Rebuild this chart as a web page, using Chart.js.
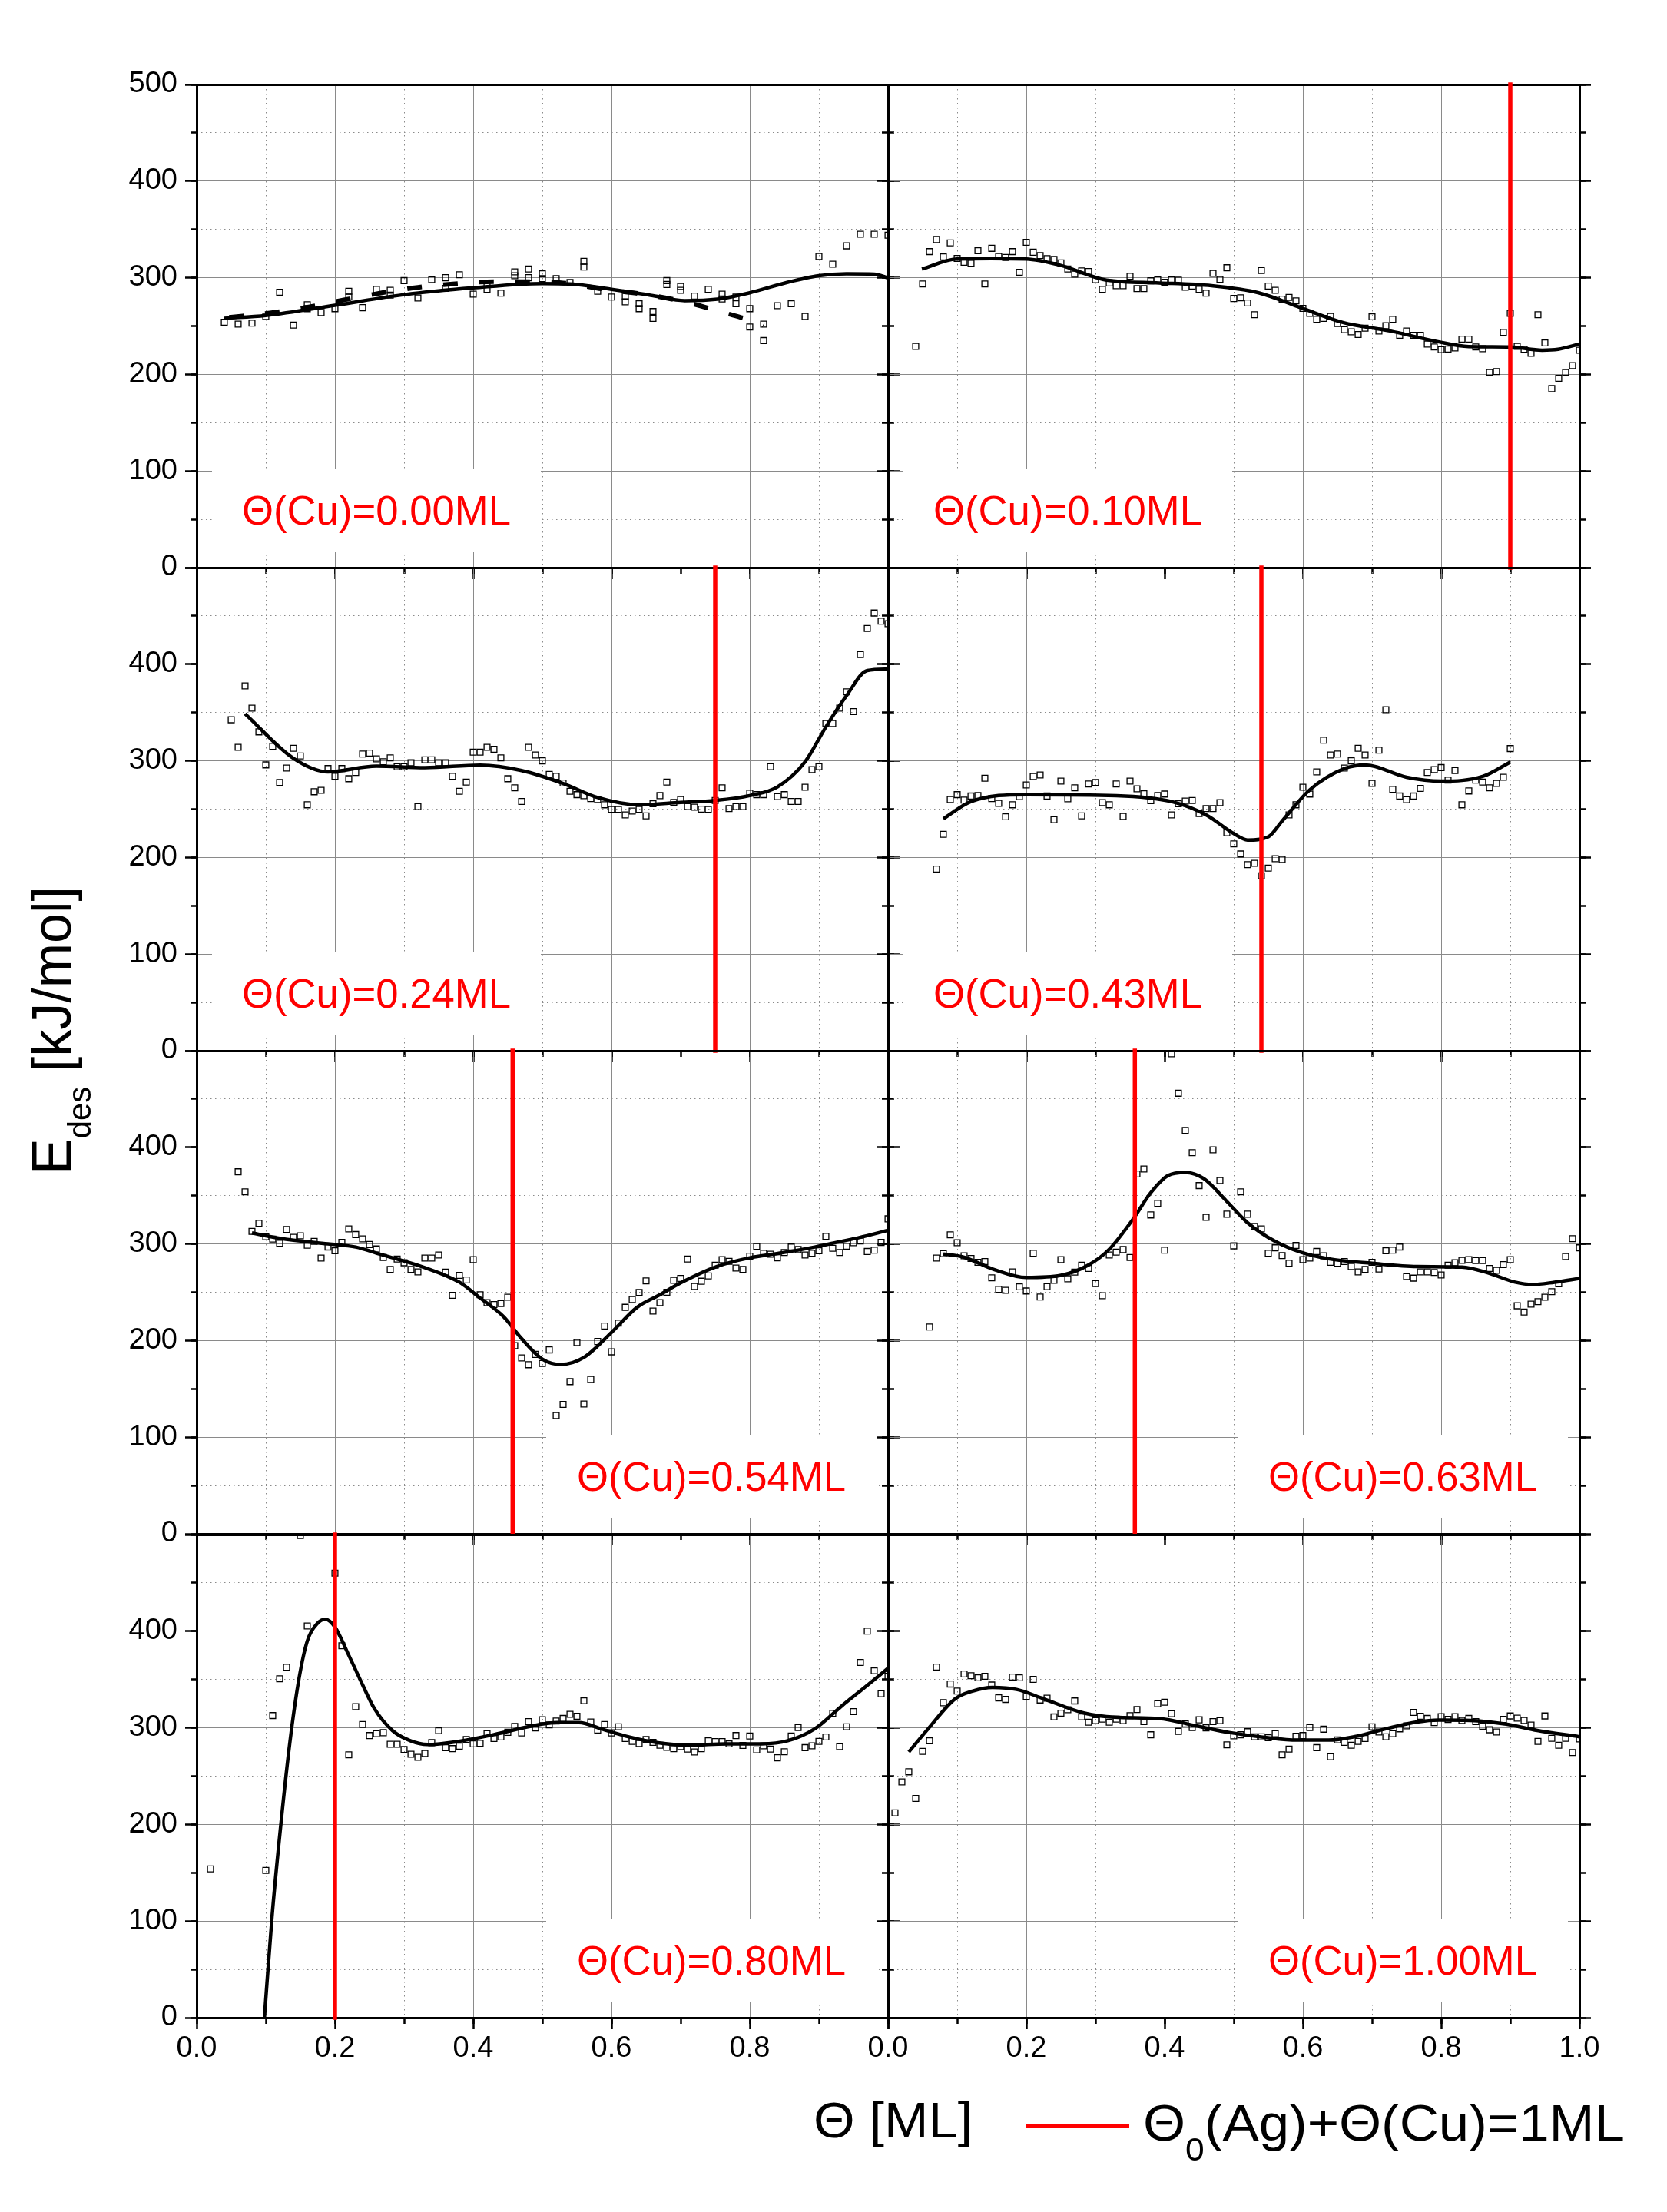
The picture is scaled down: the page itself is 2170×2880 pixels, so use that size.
<!DOCTYPE html>
<html><head><meta charset="utf-8">
<script src="https://cdn.jsdelivr.net/npm/chart.js@4.4.1/dist/chart.umd.min.js"></script>
<style>
html,body{margin:0;padding:0;background:#fff;}
body{width:2170px;height:2880px;position:relative;overflow:hidden;font-family:'Liberation Sans',Arial,sans-serif;}
canvas{position:absolute;}
.box{position:absolute;background:#fff;}
.box span{position:absolute;white-space:nowrap;color:#ff0000;font-size:54px;line-height:54px;transform-origin:0 0;}
.txt{position:absolute;white-space:nowrap;color:#000;transform-origin:0 0;}
</style></head><body>
<div id="root"></div>
<script>
// ---------------- DATA (x in units of 0.01 ML, y = E_des in kJ/mol) ----------------
const cuLabels = ['Θ(Cu)=0.00ML','Θ(Cu)=0.10ML','Θ(Cu)=0.24ML','Θ(Cu)=0.43ML','Θ(Cu)=0.54ML','Θ(Cu)=0.63ML','Θ(Cu)=0.80ML','Θ(Cu)=1.00ML'];
// red line: Θ0(Ag)+Θ(Cu)=1ML position (ML)
const redX = [null, 0.90, 0.75, 0.54, 0.457, 0.357, 0.20, null];
const xTickLabels = ['0.0','0.2','0.4','0.6','0.8','1.0'];
const yTickLabels = ['0','100','200','300','400','500'];

const pts000 = [[4,254],[6,252],[8,253],[10,260],[12,285],[14,251],[16,272],[18,264],[20,268],[22,286],[24,269],[26,288],[28,287],[30,297],[32,279],[34,298],[36,300],[38,303],[40,283],[42,288],[44,284],[46,306],[48,309],[50,304],[52,299],[54,295],[56,317],[58,286],[60,280],[62,275],[64,268],[66,258],[68,297],[70,291],[72,281],[74,288],[76,283],[78,273],[80,249],[82,235],[84,271],[86,273],[88,260],[90,322],[92,314],[94,333],[96,345],[98,345],[100,344]];
const pts000b = [[16,268],[22,280],[28,282],[36,289],[42,293],[46,302],[48,300],[50,299],[56,311],[62,281],[64,273],[66,265],[68,293],[70,287],[76,278],[78,280],[80,268],[82,252]];
const fit000 = [[4,258],[10,261],[20,271.5],[30,282.5],[40,289.5],[50,294],[54,293.5],[60,288],[66,281.4],[70.6,276.3],[75.3,277.8],[80,284.4],[85.5,295.3],[90,302],[94,304],[98,303.7],[100,299.7]];
const fit000b = [[4.7,259],[10.6,263.5],[16.2,269.7],[21.3,277],[26.8,284.4],[32,290],[37.9,294],[43,296],[48,296],[53,294.6],[59,288],[65,282.5],[70.6,275],[76.2,264],[81.3,253],[82,250.7]];

const pts010 = [[4,229],[5,293.5],[6,327],[7,339.5],[8,321.6],[9,336],[10,320],[11,316],[12,315],[13,328],[14,293.5],[15,330.4],[16,322],[17,321],[18,327],[19,305.6],[20,336.6],[21,326.4],[22,323],[23,319.8],[24,319],[25,315.4],[26,309],[27,303.7],[28,307],[29,306.4],[30,297.9],[31,288],[32,294.6],[33,291.7],[34,291.7],[35,301.5],[36,288.7],[37,288.7],[38,296.8],[39,297.9],[40,295.3],[41,297.9],[42,297.5],[43,290.2],[44,291.3],[45,288],[46,284],[47,304.5],[48,298.2],[49,310.3],[50,278.5],[51,279.2],[52,273.8],[53,261.7],[54,307.4],[55,291.3],[56,287],[57,277.8],[58,279.6],[59,276],[60,268.3],[61,263.2],[62,257],[63,258],[64,260],[65,252.6],[66,246.3],[67,244],[68,241.2],[69,247.8],[70,259.5],[71,244.9],[72,250.4],[73,257],[74,240.5],[75,244.9],[76,240.5],[77,240.5],[78,231.4],[79,228.4],[80,225.5],[81,226.2],[82,227.3],[83,236.5],[84,236.5],[85,228.4],[86,226.6],[87,202],[88,202.9],[89,243.4],[90,263.2],[91,229],[92,225.9],[93,221.9],[94,261.7],[95,232.5],[96,185.3],[97,196],[98,202],[99,209],[100,225]];
const fit010 = [[4.9,309],[9.9,319.4],[14.9,319.8],[20,319.4],[24.9,312.9],[31.6,297.5],[39.2,294.6],[46.8,291.7],[53.6,284.4],[59.7,269],[65.8,253.7],[72.6,244.9],[79.4,234],[84,228.8],[90,228.4],[94.6,225],[96.9,225.9],[100,231.4]];

const pts024 = [[5,342.5],[6,314],[7,377.6],[8,354.5],[9,330],[10,295.8],[11,315],[12,277.6],[13,292.5],[14,313],[15,305],[16,254.5],[17,268],[18,269.5],[19,292],[20,284],[21,292],[22,281.5],[23,288],[24,307],[25,308],[26,302],[27,299],[28,303],[29,294],[30,294],[31,298],[32,252.6],[33,301],[34,301],[35,298],[36,298],[37,284],[38,268.5],[39,278],[40,309],[41,309],[42,314],[43,312],[44,303],[45,281.5],[46,272],[47,258],[48,314],[49,306],[50,300],[51,286],[52,284],[53,277],[54,268.5],[55,265],[56,264],[57,261],[58,260],[59,254.5],[60,249.7],[61,249.7],[62,244],[63,248],[64,249.7],[65,243],[66,255.5],[67,264],[68,278],[69,257],[70,260],[71,252.6],[72,252],[73,250],[74,249.7],[75,259],[76,272],[77,250.6],[78,252.6],[79,252.6],[80,266.5],[81,265],[82,265],[83,294],[84,263],[85,265],[86,258],[87,258],[88,272.7],[89,291],[90,294],[91,338.6],[92,338.6],[93,354.5],[94,371.4],[95,351],[96,410],[97,437],[98,453],[99,444.5],[100,442]];
const fit024 = [[7,348.7],[14,302.6],[19,288.6],[26,294.5],[33,293],[41,295.5],[47,290],[53,276.6],[58,262],[64,254.5],[70,257],[75,259],[80,264],[84,273],[88,299],[91,335],[94,367.5],[97,393.5],[100,395]];

const pts043 = [[7,188],[8,224],[9,260],[10,265],[11,259.4],[12,263.6],[13,264],[14,282],[15,261],[16,256],[17,242],[18,254.5],[19,263],[20,275],[21,283.8],[22,285.4],[23,263.6],[24,239],[25,279],[26,260.7],[27,272],[28,243],[29,276],[30,277.6],[31,256.8],[32,254.5],[33,276],[34,242.5],[35,279],[36,271],[37,266],[38,258.8],[39,264],[40,265.6],[41,244],[42,255.5],[43,258.4],[44,259],[45,245.5],[46,250.6],[47,250.6],[48,256.8],[49,225.6],[50,214],[51,203.6],[52,192.5],[53,194],[54,181],[55,189],[56,198.7],[57,198],[58,244],[59,254.5],[60,272.7],[61,265.6],[62,288.6],[63,321.4],[64,306],[65,307],[66,292.5],[67,300],[68,313],[69,306],[70,276.6],[71,311],[72,353],[73,270.5],[74,263.6],[75,259.7],[76,263.6],[77,271.4],[78,288],[79,291],[80,293],[81,280],[82,290],[83,254.5],[84,268.8],[85,280],[86,278],[87,272],[88,276.6],[89,283],[90,312.7]];
const fit043 = [[8,240],[12,257.8],[20,265],[33,264],[41,257.8],[46,244],[50,224.7],[52,218],[55,221.4],[57,237.7],[61,270],[66,292],[69,295.8],[75,283],[80,279],[86,283.8],[90,298.7]];

const pts054 = [[6,374.7],[7,354],[8,313],[9,321.4],[10,307.5],[11,305],[12,300.6],[13,315],[14,306.8],[15,308.4],[16,298.7],[17,302.6],[18,285.4],[19,296.8],[20,292.9],[21,301.6],[22,315.6],[23,309.7],[24,305.2],[25,299.4],[26,294.8],[27,286],[28,273.7],[29,284.4],[30,280.5],[31,273.7],[32,271],[33,285.4],[34,285.4],[35,288.6],[36,270.8],[37,246.8],[38,267.5],[39,262.7],[40,283.8],[41,247.4],[42,239.3],[43,237.3],[44,238.3],[45,244.8],[46,194.8],[47,182],[48,175],[49,185.7],[50,176.3],[51,190.3],[52,122.4],[53,134],[54,157.5],[55,198],[56,134.4],[57,159.7],[58,199],[59,215],[60,188.3],[61,218],[62,234.4],[63,242.5],[64,249.7],[65,261.7],[66,230.5],[67,239.3],[68,250],[69,262.3],[70,264.3],[71,284.4],[72,256],[73,261.4],[74,266.9],[75,278],[76,283.8],[77,282],[78,275],[79,273.7],[80,287.3],[81,297.4],[82,290.3],[83,289.3],[84,285.7],[85,291.2],[86,296.8],[87,294.2],[88,288.6],[89,290.3],[90,292.9],[91,307.8],[92,295.5],[93,291.2],[94,297.7],[95,301.3],[96,303],[97,292.2],[98,293.5],[99,301.6],[100,326]];
const fit054 = [[8,311.4],[12,305.8],[19,300],[23,296.8],[26.4,289.6],[32.8,276],[38,260.4],[41,244],[44.4,224.7],[47,202],[50,180.8],[52.7,175.3],[56,182.5],[60,208.4],[63.7,234.4],[67,247.4],[70,259.7],[75.2,276.6],[80,285.7],[84.2,290.3],[89.4,296.8],[93.2,302.6],[95.8,306.5],[100,314]];

const pts063 = [[6,214],[7,285.4],[8,290],[9,309.4],[10,301.3],[11,287.7],[12,285],[13,281],[14,281.8],[15,264.9],[16,253],[17,252],[18,271],[19,255.5],[20,251.3],[21,290.3],[22,245],[23,255.8],[24,262.3],[25,283.8],[26,264],[27,270.8],[28,278],[29,274.7],[30,259],[31,246.4],[32,288.6],[33,291.6],[34,294.2],[35,286],[36,372.4],[37,377.6],[38,330],[39,342],[40,293.5],[41,496.8],[42,456],[43,417.5],[44,394.5],[45,360.4],[46,327.6],[47,397.4],[48,365.6],[49,330.8],[50,298],[51,354],[52,330.8],[53,318.2],[54,315.6],[55,290.3],[56,296],[57,288],[58,280],[59,298.4],[60,283.8],[61,285.4],[62,292.2],[63,287.7],[64,281],[65,280],[66,281.8],[67,276.6],[68,271],[69,273.7],[70,281],[71,274],[72,292.9],[73,293.5],[74,296.8],[75,266.2],[76,264.6],[77,271],[78,271],[79,270.5],[80,267.9],[81,278],[82,280.5],[83,283],[84,283.8],[85,282.8],[86,282.8],[87,274.7],[88,272.7],[89,278.6],[90,283.8],[91,236],[92,229.5],[93,237.7],[94,240.3],[95,244.8],[96,250.6],[97,258.8],[98,287],[99,305.5],[100,296]];
const fit063 = [[8,289.6],[10.9,286.4],[15.4,273.4],[20,265.3],[25,267.5],[29,278.2],[32,294.5],[35.4,325.3],[38,353],[40.5,370.8],[43,374],[45.7,367.5],[48.9,344.8],[52,322],[56,302.6],[59.8,291.2],[63.7,284.7],[70,280],[76.5,276.6],[83,276],[86.8,270],[90.7,260.4],[93.2,258],[96.4,260.4],[100,264.3]];

const pts080 = [[2,154],[10,152.4],[11,312.7],[12,350.7],[13,362.7],[15,499],[16,405.4],[20,460],[21,385],[22,272],[23,322],[24,303.5],[25,292],[26,294],[27,295],[28,283],[29,283],[30,277.6],[31,272.7],[32,269.5],[33,273.4],[34,284.7],[35,297],[36,279.5],[37,278.5],[38,281],[39,288],[40,283.4],[41,284],[42,294],[43,289],[44,290.5],[45,295.4],[46,301.5],[47,294.8],[48,306.4],[49,300],[50,308.4],[51,303],[52,307],[53,309.7],[54,314],[55,312],[56,328],[57,306],[58,297.7],[59,303.5],[60,294.8],[61,301],[62,289],[63,286],[64,283.7],[65,288],[66,285],[67,282],[68,279.8],[69,278.5],[70,280.5],[71,278],[72,275],[73,278.5],[74,286.6],[75,285.7],[76,285.7],[77,283.4],[78,292],[79,281.8],[80,291.5],[81,277.2],[82,281.4],[83,278],[84,269],[85,275.3],[86,291.5],[87,300.3],[88,279.5],[89,281.4],[90,286],[91,290.5],[92,315],[93,280.5],[94,301],[95,316.8],[96,367.7],[97,400],[98,359],[99,335.3],[100,353.4]];
const fit080 = [[9.8,0],[10.9,104.4],[12.2,201.7],[13.5,286],[14.8,350.8],[16,389.8],[17.4,407.6],[18.6,412.4],[20,404.3],[21.9,376.7],[23.8,347.6],[25.7,320],[28.3,297.3],[30.9,286.6],[33.4,282.7],[37.9,286],[43,293],[48.2,301.5],[52.1,305.4],[55.3,305.4],[58.5,299],[62.4,290.8],[66.9,284.4],[71.4,282],[76.5,283.4],[81.7,283.4],[85.5,286.6],[89.4,299],[93.2,322],[97.1,344.6],[100,361.7]];

const pts100 = [[1,212],[2,244],[3,254.5],[4,227],[5,275.6],[6,286.6],[7,362.8],[8,326],[9,345.3],[10,338],[11,355.7],[12,354],[13,351.8],[14,353.4],[15,344.3],[16,331],[17,329.4],[18,352.5],[19,351.8],[20,332.4],[21,350.2],[22,328.8],[23,330.7],[24,311.3],[25,315.2],[26,318.7],[27,327.8],[28,311.3],[29,305.8],[30,307.4],[31,309],[32,305.8],[33,309],[34,307.4],[35,312.6],[36,319],[37,306.4],[38,292.8],[39,325],[40,326.5],[41,314.5],[42,296.4],[43,304],[44,300.3],[45,308.3],[46,300],[47,306.4],[48,307.4],[49,282.4],[50,291.8],[51,292.8],[52,296],[53,290.8],[54,290.8],[55,289.8],[56,294],[57,272],[58,278],[59,291.4],[60,292],[61,300.3],[62,279.5],[63,298.6],[64,270],[65,287.6],[66,285],[67,282],[68,286],[69,289],[70,301],[71,295.7],[72,290.8],[73,294],[74,299],[75,302],[76,316],[77,312],[78,309.7],[79,305.4],[80,311.6],[81,308.7],[82,311.6],[83,307.7],[84,309.7],[85,306.4],[86,301.6],[87,298],[88,295.7],[89,308.7],[90,312.3],[91,310],[92,307.7],[93,302.9],[94,286],[95,312.3],[96,289.2],[97,282],[98,289.2],[99,274.4],[100,288.6]];
const fit100 = [[3,275],[5.8,299],[9.7,330],[12.2,338],[15.1,341.9],[18.6,339.7],[22.5,330],[28.3,315.4],[32.8,311],[39.2,309.7],[44.4,302.3],[49.5,295],[54.7,289.9],[59.2,287.3],[63.7,287.3],[67.5,290.9],[72,299],[76.5,306],[79.7,308],[84.2,307.7],[89.4,303.8],[93.9,297.3],[100,290.8]];

// ---------------- LAYOUT ----------------
const ROW_TOP = [110, 739, 1368, 1998];
const COL_LEFT = [256, 1156];
const PW = 900, PH = 629;
const ML = 140, MR = 50, MT = 40, MB = 100;
const GRID = '#8a8a8a';

const panels = [
  {pts: pts000, pts2: pts000b, fit: fit000, fit2: fit000b},
  {pts: pts010, fit: fit010},
  {pts: pts024, fit: fit024},
  {pts: pts043, fit: fit043},
  {pts: pts054, fit: fit054},
  {pts: pts063, fit: fit063},
  {pts: pts080, fit: fit080},
  {pts: pts100, fit: fit100}
];

Chart.defaults.font.family = "'Liberation Sans', Arial, sans-serif";
Chart.defaults.color = '#000';

const toXY = arr => arr.map(p => ({x: p[0] / 100, y: p[1]}));
const root = document.getElementById('root');
const near = (a, b) => Math.abs(a - b) < 1e-6;

panels.forEach((p, i) => {
  const row = Math.floor(i / 2), col = i % 2;
  const isLeft = col === 0, isBottom = row === 3;
  const cv = document.createElement('canvas');
  const W = PW + ML + MR, H = PH + MT + MB;
  cv.width = W; cv.height = H;
  cv.style.width = W + 'px'; cv.style.height = H + 'px';
  cv.style.left = (COL_LEFT[col] - ML) + 'px';
  cv.style.top = (ROW_TOP[row] - MT) + 'px';
  root.appendChild(cv);

  const datasets = [];
  if (redX[i] !== null) {
    datasets.push({data: [{x: redX[i], y: 0}, {x: redX[i], y: 500}], showLine: true,
      borderColor: '#ff0000', borderWidth: 5.5, pointRadius: 0, clip: 6, borderCapStyle: 'square'});
  }
  datasets.push({data: toXY(p.fit), showLine: true, borderColor: '#000', borderWidth: 4.5,
    pointRadius: 0, cubicInterpolationMode: 'monotone'});
  if (p.fit2) {
    datasets.push({data: toXY(p.fit2), showLine: true, borderColor: '#000', borderWidth: 6,
      borderDash: [19, 28], pointRadius: 0, cubicInterpolationMode: 'monotone'});
  }
  if (p.pts2) {
    datasets.push({data: toXY(p.pts2), showLine: false, pointStyle: 'rect', pointRadius: 5.5,
      borderColor: '#000', borderWidth: 1.3, backgroundColor: 'rgba(0,0,0,0)'});
  }
  datasets.push({data: toXY(p.pts), showLine: false, pointStyle: 'rect', pointRadius: 5.5,
    borderColor: '#000', borderWidth: 1.3, backgroundColor: 'rgba(0,0,0,0)'});

  const majorX = v => near(v * 5, Math.round(v * 5));
  const majorY = v => near(v / 100, Math.round(v / 100));

  new Chart(cv, {
    type: 'scatter',
    data: {datasets},
    options: {
      responsive: false, animation: false, devicePixelRatio: 1, events: [],
      layout: {padding: 0},
      plugins: {legend: {display: false}, tooltip: {enabled: false}},
      scales: {
        x: {type: 'linear', position: 'bottom', min: 0, max: 1, weight: 0,
          afterFit: s => { s.height = MB; },
          ticks: {display: isBottom, stepSize: 0.2, autoSkip: false, maxRotation: 0, padding: 3,
            font: {size: 38}, color: '#000',
            callback: v => {
              if (isLeft && near(v, 1)) return '';
              const k = Math.round(v * 5);
              return xTickLabels[k] !== undefined ? xTickLabels[k] : '';
            }},
          grid: {color: GRID, lineWidth: 1, tickColor: '#000', tickWidth: 2.5, tickLength: 15},
          border: {display: true, color: '#000', width: 3}},
        xm: {type: 'linear', position: 'bottom', min: 0, max: 1, weight: -1,
          afterFit: s => { s.height = 0; },
          ticks: {display: false, stepSize: 0.1},
          grid: {color: c => majorX(c.tick.value) ? 'rgba(0,0,0,0)' : GRID, lineWidth: 1,
            tickColor: '#000', tickWidth: 2.5, tickLength: 8},
          border: {display: false, dash: [1.5, 4.5]}},
        xt: {type: 'linear', position: 'top', min: 0, max: 1,
          afterFit: s => { s.height = MT; },
          ticks: {display: false}, grid: {display: false},
          border: {display: true, color: '#000', width: 3}},
        y: {type: 'linear', position: 'left', min: 0, max: 500, weight: 0,
          afterFit: s => { s.width = ML; },
          ticks: {display: isLeft, stepSize: 100, padding: 10, font: {size: 38}, color: '#000',
            callback: v => {
              if (row > 0 && near(v, 500)) return '';
              const k = Math.round(v / 100);
              return yTickLabels[k] !== undefined ? yTickLabels[k] : '';
            }},
          grid: {color: GRID, lineWidth: 1, tickColor: '#000', tickWidth: 2.5, tickLength: 15},
          border: {display: true, color: '#000', width: 3}},
        ym: {type: 'linear', position: 'left', min: 0, max: 500, weight: -1,
          afterFit: s => { s.width = 0; },
          ticks: {display: false, stepSize: 50},
          grid: {color: c => majorY(c.tick.value) ? 'rgba(0,0,0,0)' : GRID, lineWidth: 1,
            tickColor: '#000', tickWidth: 2.5, tickLength: 8},
          border: {display: false, dash: [1.5, 4.5]}},
        yr: {type: 'linear', position: 'right', min: 0, max: 500, weight: 0,
          afterFit: s => { s.width = MR; },
          ticks: {display: false, stepSize: 100},
          grid: {drawOnChartArea: false, tickColor: '#000', tickWidth: 2.5, tickLength: 15},
          border: {display: true, color: '#000', width: 3}},
        yrm: {type: 'linear', position: 'right', min: 0, max: 500, weight: -1,
          afterFit: s => { s.width = 0; },
          ticks: {display: false, stepSize: 50},
          grid: {drawOnChartArea: false, tickColor: '#000', tickWidth: 2.5, tickLength: 8},
          border: {display: false}}
      }
    }
  });
});

// ---------------- TEXT OVERLAYS ----------------
function fitWidth(el, target, extra) {
  const w = el.getBoundingClientRect().width;
  el.style.transform = (extra || '') + ' scaleX(' + (target / w) + ')';
}

panels.forEach((p, i) => {
  const row = Math.floor(i / 2), col = i % 2;
  const box = document.createElement('div');
  box.className = 'box';
  const bx = row < 2 ? 20 : 455;
  const bw = row < 2 ? 428 : 430;
  box.style.left = (COL_LEFT[col] + bx) + 'px';
  box.style.top = (ROW_TOP[row] + 501) + 'px';
  box.style.width = bw + 'px';
  box.style.height = '108px';
  const sp = document.createElement('span');
  sp.textContent = cuLabels[i];
  box.appendChild(sp);
  document.body.appendChild(box);
  const target = 350;
  sp.style.left = ((bw - target) / 2) + 'px';
  sp.style.top = '26px';
  fitWidth(sp, target);
});

// y-axis title
const yt = document.createElement('div');
yt.className = 'txt';
yt.style.fontSize = '72px'; yt.style.lineHeight = '72px';
yt.innerHTML = 'E<span style="font-size:43px;position:relative;top:26px">des</span> [kJ/mol]';
yt.style.left = '31px'; yt.style.top = '1529px';
document.body.appendChild(yt);
fitWidth(yt, 375, 'rotate(-90deg)');

// x-axis title
const xt = document.createElement('div');
xt.className = 'txt';
xt.style.fontSize = '65px'; xt.style.lineHeight = '65px';
xt.textContent = 'Θ [ML]';
xt.style.left = '1059px'; xt.style.top = '2728px';
document.body.appendChild(xt);
fitWidth(xt, 207);

// legend
const lg = document.createElement('div');
lg.style.cssText = 'position:absolute;left:1335px;top:2765px;width:135px;height:6px;background:#ff0000;';
document.body.appendChild(lg);
const lt = document.createElement('div');
lt.className = 'txt';
lt.style.fontSize = '67px'; lt.style.lineHeight = '67px';
lt.innerHTML = 'Θ<span style="font-size:42px;position:relative;top:26px">0</span>(Ag)+Θ(Cu)=1ML';
lt.style.left = '1488px'; lt.style.top = '2730px';
document.body.appendChild(lt);
fitWidth(lt, 627);
</script>
</body></html>
